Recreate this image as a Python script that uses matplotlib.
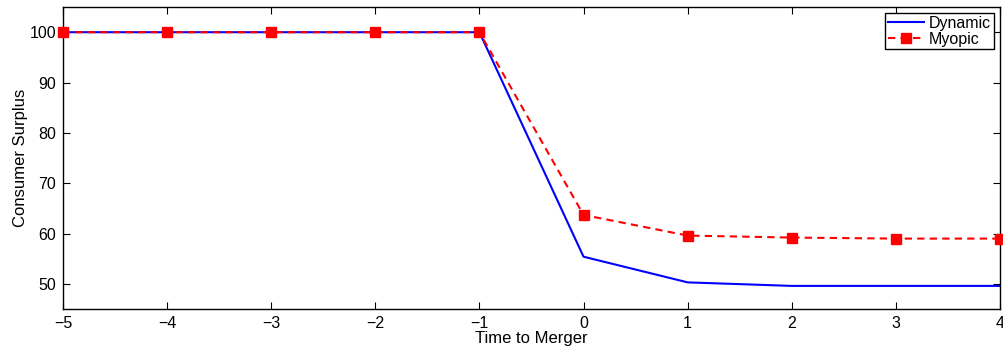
import matplotlib
matplotlib.use('Agg')
import matplotlib.pyplot as plt

plt.rcParams['font.family'] = ['Liberation Sans', 'DejaVu Sans']

# 数据
time_to_merger = [-5, -4, -3, -2, -1, 0, 1, 2, 3, 4]
dynamic = [100, 100, 100, 100, 100, 55.4, 50.3, 49.6, 49.6, 49.6]
myopic = [100, 100, 100, 100, 100, 63.7, 59.6, 59.2, 59.0, 59.0]

fig = plt.figure(figsize=(10.04, 3.52), dpi=100)
ax = fig.add_axes([0.0627, 0.122, 0.9333, 0.858])

ax.plot(time_to_merger, dynamic, '-', color='#0000ff', linewidth=1.5, label='Dynamic')
ax.plot(time_to_merger, myopic, '--', color='#ff0000', linewidth=1.5, dashes=(3.5, 2.5),
        marker='s', markersize=7, label='Myopic', clip_on=False, zorder=3)

ax.set_xlim(-5, 4)
ax.set_ylim(45, 105)
ax.set_xticks(time_to_merger)
ax.set_yticks([50, 60, 70, 80, 90, 100])
ax.tick_params(direction='in', top=True, right=True, labelsize=11.5, length=5, pad=5)
for s in ax.spines.values():
    s.set_linewidth(1.0)

ax.set_xlabel('Time to Merger', fontsize=12, labelpad=0)
ax.set_ylabel('Consumer Surplus', fontsize=12, labelpad=1)

leg = ax.legend(loc='upper right', fontsize=11.5, fancybox=False, framealpha=1,
                edgecolor='black', borderpad=0.15, labelspacing=0.05,
                handlelength=2.3, handletextpad=0.3, borderaxespad=0.4)
leg.get_frame().set_linewidth(1.0)

fig.savefig('out.png', dpi=100)
